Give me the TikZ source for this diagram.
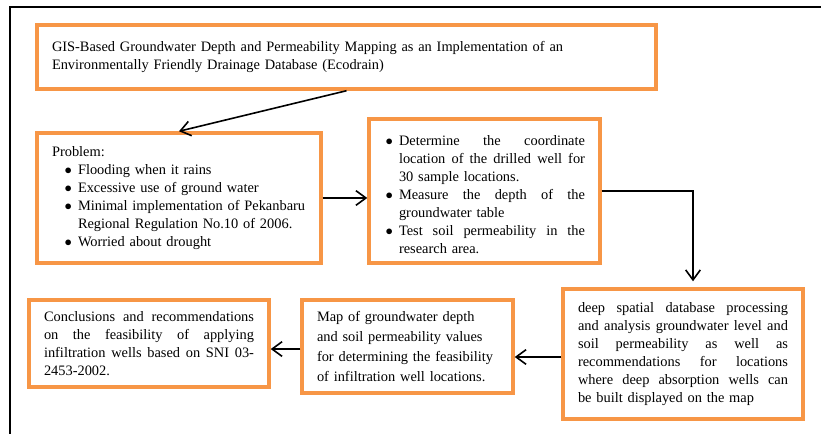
\documentclass[tikz,border=0pt]{standalone}
\usepackage{fontspec}
\setmainfont{Liberation Serif}
\usetikzlibrary{arrows.meta}
\definecolor{boxorange}{RGB}{247,150,70}
\newenvironment{dotlist}[1]{\begin{list}{$\bullet$}{\setlength{\leftmargin}{#1}\setlength{\labelsep}{4.5pt}\setlength{\labelwidth}{\dimexpr#1-4.5pt\relax}\setlength{\itemsep}{0pt}\setlength{\parsep}{0pt}\setlength{\topsep}{0pt}\setlength{\partopsep}{0pt}}}{\end{list}}
\newcommand{\spreadline}[1]{\makebox[\linewidth][s]{\spaceskip=0pt\xspaceskip=0pt\relax #1}\\}
\tikzset{
  flowbox/.style={draw=boxorange, line width=2.6pt, fill=white, inner xsep=11.25pt, inner ysep=0pt,
    font=\fontsize{10.8pt}{13.5pt}\selectfont, align=left},
  flowarrow/.style={-{Straight Barb[length=7.5pt,width=11pt]}, line width=1.2pt}
}
\begin{document}
\begin{tikzpicture}[x=0.75pt,y=-0.75pt]
      \useasboundingbox (0,0) rectangle (821,434);
      \draw[line width=1.4pt] (821,7) -- (10,7) -- (10,434);
      \node[flowbox, minimum width=464.25pt, minimum height=48pt, text width=441.75pt] (title) at (346.5,57)
        {GIS-Based Groundwater Depth and Permeability Mapping as an Implementation of an\\
         Environmentally Friendly Drainage Database (Ecodrain)};
      \node[flowbox, minimum width=213pt, minimum height=97.5pt, text width=190.5pt] (problem) at (179,198)
        {Problem:
         \begin{dotlist}{19.5pt}
         \item Flooding when it rains
         \item Excessive use of ground water
         \item Minimal implementation of Pekanbaru\\ Regional Regulation No.10 of 2006.
         \item Worried about drought
         \end{dotlist}};
      \node[flowbox, minimum width=173.25pt, minimum height=108pt, text width=150.75pt] (steps) at (484.5,191)
        {\begin{dotlist}{11.25pt}
         \item \spreadline{Determine the coordinate}\spreadline{location of the drilled well for}30 sample locations.
         \item \spreadline{Measure the depth of the}groundwater table
         \item \spreadline{Test soil permeability in the}research area.
         \end{dotlist}};
      \node[flowbox, minimum width=180pt, minimum height=97.5pt, text width=157.5pt] (processing) at (683,354)
        {\spreadline{deep spatial database processing}\spreadline{and analysis groundwater level and}%
         \spreadline{soil permeability as well as}\spreadline{recommendations for locations}%
         \spreadline{where deep absorption wells can}be built displayed on the map};
      \node[flowbox, minimum width=158.25pt, minimum height=69.75pt, text width=135.75pt,
        font=\fontsize{10.8pt}{15pt}\selectfont] (map) at (407.5,346.5)
        {Map of groundwater depth\\ and soil permeability values\\ for determining the feasibility\\ of infiltration well locations.};
      \node[flowbox, minimum width=180pt, minimum height=65.25pt, text width=157.5pt] (conclusions) at (149,343.5)
        {\spreadline{Conclusions and recommendations}\spreadline{on the feasibility of applying}%
         \spreadline{infiltration wells based on SNI 03-}2453-2002.};
      \begin{scope}[flowarrow]
        \draw (title.south) -- (problem.north);
        \draw (problem.east) -- (problem.east -| steps.west);
        \draw[shorten >=4.5pt] (steps.east) -| ([xshift=7.5pt]processing.north);
        \draw ([yshift=-2.25pt]processing.west) -- ([yshift=-2.25pt]processing.west -| map.east);
        \draw ([yshift=-1.9pt]map.west) -- ([yshift=-1.9pt]map.west -| conclusions.east);
      \end{scope}
    \end{tikzpicture}
\end{document}
